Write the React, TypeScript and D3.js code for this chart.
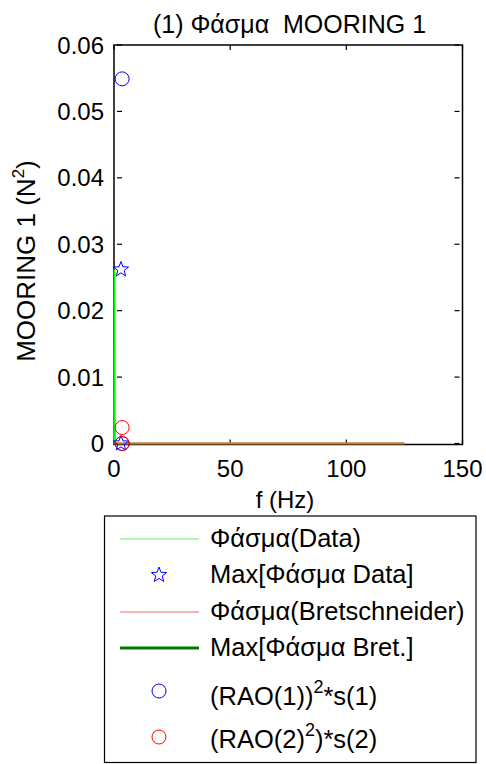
import React from "react";
import * as d3 from "d3";

// ---- data ----
const specDataF = [0, 0.05, 0.1, 0.15, 0.2, 0.25, 0.3, 0.4, 0.5];
const specDataV = [0, 0.004, 0.012, 0.0205, 0.0262, 0.0215, 0.012, 0.004, 0.0005];
const maxDataF = [3.0, 3.0];
const maxDataV = [0.0262, 0.0];
const bretF = [0, 25, 50, 75, 100, 125];
const bretV = [0.00001, 0.00001, 0.00001, 0.00001, 0.00001, 0.00001];
const rao1F = [3.5, 3.5];
const rao1V = [0.0549, 0.0];
const rao2F = [3.5, 3.5];
const rao2V = [0.0024, 0.0];
const xTicks = [0, 50, 100, 150];
const yTicks = [0, 0.01, 0.02, 0.03, 0.04, 0.05, 0.06];
const yTickLabels = ["0", "0.01", "0.02", "0.03", "0.04", "0.05", "0.06"];
const legendLabels = [
  "Φάσμα(Data)",
  "Max[Φάσμα Data]",
  "Φάσμα(Bretschneider)",
  "Max[Φάσμα Bret.]",
];

const FONT = "'Liberation Sans', Arial, Helvetica, sans-serif";

function starPath(cx: number, cy: number, r: number) {
  const pts: string[] = [];
  for (let i = 0; i < 10; i++) {
    const rr = i % 2 === 0 ? r : r * 0.42;
    const a = -Math.PI / 2 + (i * Math.PI) / 5;
    pts.push(`${cx + rr * Math.cos(a)},${cy + rr * Math.sin(a)}`);
  }
  return "M" + pts.join("L") + "Z";
}

export default function App() {
  const L = 114, R = 462.5, T = 45, B = 443.5;
  const x = d3.scaleLinear().domain([0, 150]).range([L, R]);
  const y = d3.scaleLinear().domain([0, 0.06]).range([B, T]);
  const line = d3
    .line<[number, number]>()
    .x((d) => x(d[0]))
    .y((d) => y(d[1]));

  const specPts = specDataF.map((f, i) => [f, specDataV[i]] as [number, number]);
  const bretPts = bretF.map((f, i) => [f, bretV[i]] as [number, number]);

  const lgX0 = 120, lgX1 = 199, lgMx = 159, lgTx = 210;
  const rowY = [539, 575, 612, 648, 691, 737];
  const rowBase = [547, 583, 620, 656];
  const FS = 24;
  const LFS = 25.5;

  return (
    <svg
      width={486}
      height={764}
      style={{ position: "absolute", left: 0, top: 0, background: "#fff" }}
      fontFamily={FONT}
    >
      <rect x={0} y={0} width={486} height={764} fill="#fff" />
      {/* title */}
      <text x={289.5} y={33} fontSize={25} textAnchor="middle" fill="#000">
        (1) Φάσμα{"\u00a0\u00a0"}MOORING 1
      </text>

      {/* frame */}
      <rect x={L} y={T} width={R - L} height={B + 1 - T} fill="none" stroke="#000" strokeWidth={1.5} />

      {/* ticks */}
      {yTicks.map((t, i) => (
        <g key={"yt" + i}>
          <line x1={L + 3} x2={L + 8} y1={y(t)} y2={y(t)} stroke="#000" strokeWidth={1.2} />
          <line x1={R - 3} x2={R - 8} y1={y(t)} y2={y(t)} stroke="#000" strokeWidth={1.2} />
          <text x={104} y={y(t) + 8.5} fontSize={FS} textAnchor="end" fill="#000">
            {yTickLabels[i]}
          </text>
        </g>
      ))}
      {xTicks.map((t, i) => (
        <g key={"xt" + i}>
          <line x1={x(t)} x2={x(t)} y1={B + 1} y2={B - 4} stroke="#000" strokeWidth={1.2} />
          <line x1={x(t)} x2={x(t)} y1={T} y2={T + 5} stroke="#000" strokeWidth={1.2} />
          <text x={x(t)} y={477} fontSize={FS} textAnchor="middle" fill="#000">
            {t}
          </text>
        </g>
      ))}

      {/* axis labels */}
      <text x={285} y={508} fontSize={FS} textAnchor="middle" fill="#000">
        f (Hz)
      </text>
      <text
        transform={`translate(35,261) rotate(-90)`}
        fontSize={26}
        textAnchor="middle"
        fill="#000"
      >
        MOORING 1 (N
        <tspan fontSize={17} dy={-11}>2</tspan>
        <tspan dy={11}>)</tspan>
      </text>

      {/* data */}
      <path d={line(bretPts) || ""} fill="none" stroke="#c0803c" strokeWidth={2.2} />
      <path d={line(specPts) || ""} fill="none" stroke="#00ff00" strokeWidth={1.5} />
      {maxDataF.map((f, i) => (
        <path key={"st" + i} d={starPath(x(f), y(maxDataV[i]), 8)} fill="none" stroke="#0000ff" strokeWidth={1} />
      ))}
      {rao1F.map((f, i) => (
        <circle key={"r1" + i} cx={x(f)} cy={y(rao1V[i])} r={7} fill="none" stroke="#0000ff" strokeWidth={1} />
      ))}
      {rao2F.map((f, i) => (
        <circle key={"r2" + i} cx={x(f)} cy={y(rao2V[i])} r={7} fill="none" stroke="#ff0000" strokeWidth={1} />
      ))}

      {/* legend */}
      <rect x={104.5} y={516} width={371.5} height={246.5} fill="#fff" stroke="#000" strokeWidth={1.2} />
      <line x1={lgX0} x2={lgX1} y1={rowY[0]} y2={rowY[0]} stroke="#66ee66" strokeWidth={1.2} />
      <path d={starPath(lgMx, rowY[1], 8)} fill="none" stroke="#0000ff" strokeWidth={1} />
      <line x1={lgX0} x2={lgX1} y1={rowY[2]} y2={rowY[2]} stroke="#ff6666" strokeWidth={1.2} />
      <line x1={lgX0} x2={lgX1} y1={rowY[3]} y2={rowY[3]} stroke="#007a00" strokeWidth={3} />
      <circle cx={lgMx} cy={rowY[4]} r={7} fill="none" stroke="#0000ff" strokeWidth={1} />
      <circle cx={lgMx} cy={rowY[5]} r={7} fill="none" stroke="#ff0000" strokeWidth={1} />
      {legendLabels.map((s, i) => (
        <text key={"lg" + i} x={lgTx} y={rowBase[i]} fontSize={LFS} fill="#000">
          {s}
        </text>
      ))}
      <text x={lgTx} y={705} fontSize={LFS} fill="#000">
        (RAO(1))<tspan fontSize={18} dy={-12}>2</tspan>
        <tspan dy={12}>*s(1)</tspan>
      </text>
      <text x={lgTx} y={748} fontSize={LFS} fill="#000">
        (RAO(2)<tspan fontSize={18} dy={-12}>2</tspan>
        <tspan dy={12}>)*s(2)</tspan>
      </text>
    </svg>
  );
}
